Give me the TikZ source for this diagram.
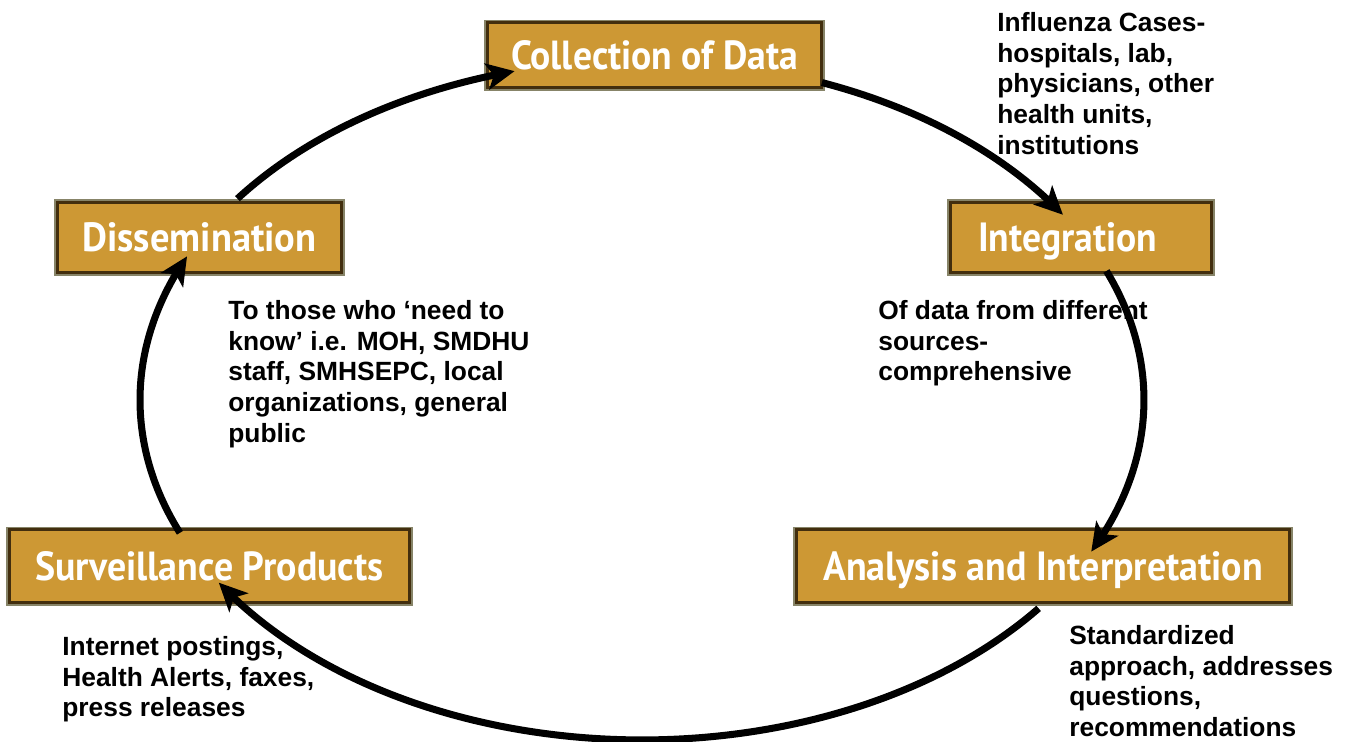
\documentclass[tikz,border=0pt]{standalone}
\usepackage{fontspec}
\setmainfont{Liberation Sans}
\newfontfamily\boxfont{PT Sans}
\usetikzlibrary{arrows.meta,bending,calc}
\definecolor{gold}{RGB}{205,152,52}
\definecolor{edgedark}{RGB}{66,46,14}
\definecolor{edgegray}{RGB}{135,132,104}
\newcommand{\boxtext}[2]{\resizebox{#1}{0.58cm}{\boxfont\bfseries #2}}
\begin{document}
\begin{tikzpicture}[x=0.02cm,y=0.02cm,
  stage/.style={fill=gold, draw=edgedark, line width=1.7pt,
    preaction={draw=edgegray, line width=3.8pt},
    inner sep=0pt, text=white, text depth=0pt},
  flow/.style={draw=black, line width=4pt,
    -{Stealth[length=16pt,width=15pt,inset=4pt]}},
  note/.style={anchor=north west, inner sep=0pt, align=left,
    font=\bfseries\fontsize{15}{17.5}\selectfont}]
\useasboundingbox (0,0) rectangle (1350,742);
% stages
\node[stage, minimum width=6.7cm, minimum height=1.3cm] (coll) at (654.5,686.5)
  {\boxtext{5.74cm}{Collection of Data}};
\node[stage, minimum width=5.7cm, minimum height=1.4cm] (diss) at (199.5,504.5)
  {\boxtext{4.68cm}{Dissemination}};
\node[stage, minimum width=5.24cm, minimum height=1.4cm] (integ) at (1081,504.5)
  {\boxtext{3.58cm}{Integration}\hspace*{0.54cm}};
\node[stage, minimum width=8.02cm, minimum height=1.46cm] (surv) at (209.5,175.5)
  {\boxtext{6.96cm}{Surveillance Products}};
\node[stage, minimum width=9.88cm, minimum height=1.46cm] (anal) at (1043,175.5)
  {\boxtext{8.8cm}{Analysis and Interpretation}};
% cycle on an ellipse
\coordinate (O) at (642,342);
\coordinate (s1) at ($(O)+({502*cos(69)},{340*sin(69)})$);
\coordinate (s2) at ($(O)+({502*cos(22.3)},{340*sin(22.3)})$);
\coordinate (s3) at ($(O)+({502*cos(-37.8)},{340*sin(-37.8)})$);
\coordinate (s4) at ($(O)+({502*cos(203)},{340*sin(203)})$);
\coordinate (s5) at ($(O)+({502*cos(143.7)},{340*sin(143.7)})$);
\draw[flow] (s1) arc[start angle=69, end angle=33, x radius=10.04cm, y radius=6.8cm];
\draw[flow] (s2) arc[start angle=22.3, end angle=-26.5, x radius=10.04cm, y radius=6.8cm];
\draw[flow] (s3) arc[start angle=-37.8, end angle=-147.5, x radius=10.04cm, y radius=6.8cm];
\draw[flow] (s4) arc[start angle=203, end angle=155, x radius=10.04cm, y radius=6.8cm];
\draw[flow] (s5) arc[start angle=143.7, end angle=104.7, x radius=10.04cm, y radius=6.8cm];
% notes
\node[note] (n1) at (997,730) {Influenza Cases-\\hospitals, lab,\\physicians, other\\health units,\\institutions};
\node[note] (n2) at (878,442) {Of data from different\\sources-\\comprehensive};
\node[note] (n3) at (228,442) {To those who ‘need to\\know’ i.e. MOH, SMDHU\\staff, SMHSEPC, local\\organizations, general\\public};
\node[note] (n4) at (62,106) {Internet postings,\\Health Alerts, faxes,\\press releases};
\node[note] (n5) at (1069,117) {Standardized\\approach, addresses\\questions,\\recommendations};
\end{tikzpicture}
\end{document}
